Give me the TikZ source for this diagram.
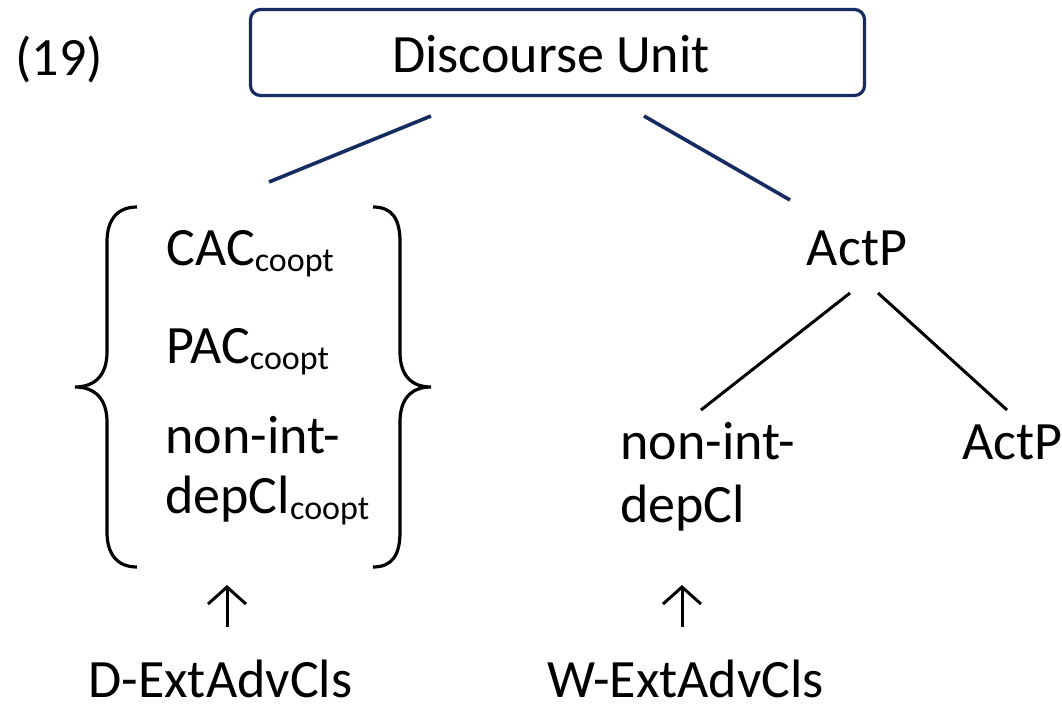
\documentclass[tikz,border=0pt]{standalone}
\usepackage{fontspec}
\setmainfont{Carlito}
\usetikzlibrary{arrows.meta}
\definecolor{unitnavy}{RGB}{23,43,99}
\newcommand{\coopt}{\raisebox{-3pt}{\fontsize{17}{17}\selectfont coopt}}

\begin{document}
\begin{tikzpicture}[x=0.5pt,y=-0.5pt,
  every node/.style={inner sep=0pt,font=\fontsize{27}{30}\selectfont},
  lbl/.style={anchor=base west},
  unitbox/.style={draw=unitnavy,line width=1.6pt,rounded corners=5pt,
    minimum width=307pt,minimum height=43pt},
  navyline/.style={draw=unitnavy,line width=1.8pt},
  treeline/.style={line width=1.5pt},
  bracket/.style={line width=1.6pt},
  uparrow/.style={line width=1.5pt,-{Straight Barb[length=8.5pt,width=19pt]}}]

  \useasboundingbox (0,0) rectangle (1062,707);

  % Nodes

  \node[lbl] (exnum) at (15,75) {(19)};
  \node[unitbox] (unit) at (557.5,52.5) {};
  \node[anchor=base] (unit_txt) at (551,72) {Discourse Unit};

  \node[lbl] (cac) at (166,265) {CAC\coopt};
  \node[lbl] (pac) at (166,363) {PAC\coopt};
  \node[lbl] (nid_a) at (165,453) {non-int-};
  \node[lbl] (nid_b) at (165,513) {depCl\coopt};

  \node[anchor=base] (actp) at (857,265) {ActP};
  \node[lbl] (nid_r_a) at (620,459) {non-int-};
  \node[lbl] (nid_r_b) at (620,522) {depCl};
  \node[lbl] (actp_r) at (962,459) {ActP};

  \node[lbl] (d_ext) at (88,697) {D-ExtAdvCls};
  \node[lbl] (w_ext) at (547,697) {W-ExtAdvCls};

  % Line ends

  \coordinate (unit_l) at (431,116);
  \coordinate (unit_r) at (644,116);
  \coordinate (set_top) at (269,182);
  \coordinate (actp_top) at (790,200);
  \coordinate (actp_l) at (850,293);
  \coordinate (actp_rr) at (878,293);
  \coordinate (nid_r_top) at (701,410);
  \coordinate (actp_r_top) at (1007,410);
  \coordinate (d_foot) at (227,627);
  \coordinate (d_tip) at (227,585);
  \coordinate (w_foot) at (682,627);
  \coordinate (w_tip) at (682,585);

  % Braces

  \draw[bracket] (137,207) .. controls (117,207) and (107,220) .. (107,242)
    -- (107,352) .. controls (107,375) and (95,387) .. (75,387)
    .. controls (95,387) and (107,399) .. (107,422)
    -- (107,532) .. controls (107,554) and (117,567) .. (137,567);
  \draw[bracket] (373,207) .. controls (393,207) and (400,220) .. (400,242)
    -- (400,352) .. controls (400,375) and (411,387) .. (431,387)
    .. controls (411,387) and (400,399) .. (400,422)
    -- (400,532) .. controls (400,554) and (393,567) .. (373,567);

  % Edges

  \draw[navyline] (unit_l) -- (set_top);
  \draw[navyline] (unit_r) -- (actp_top);
  \draw[treeline] (actp_l) -- (nid_r_top);
  \draw[treeline] (actp_rr) -- (actp_r_top);

  \draw[uparrow] (d_foot) -- (d_tip);
  \draw[uparrow] (w_foot) -- (w_tip);

\end{tikzpicture}
\end{document}
